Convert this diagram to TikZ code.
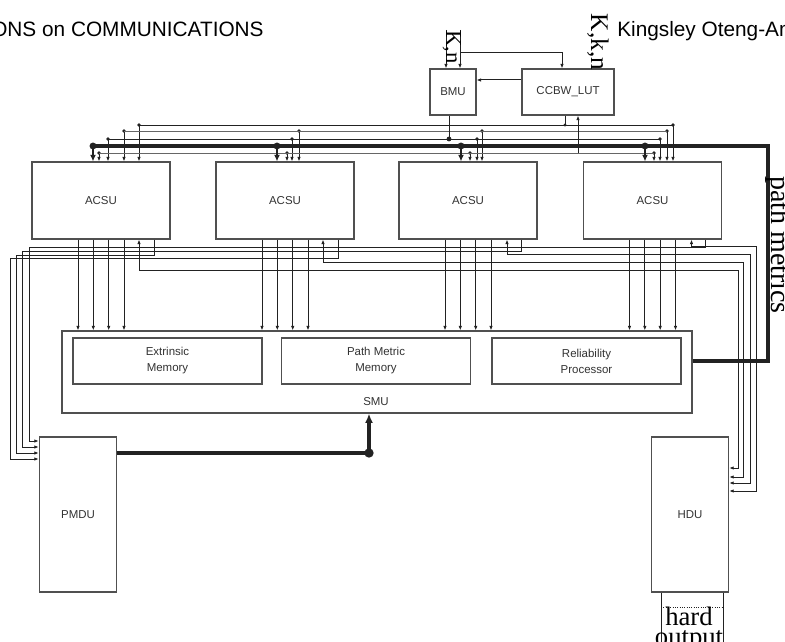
\documentclass[tikz,border=0pt]{standalone}
\usepackage{fontspec}
\setmainfont{Liberation Serif}
\setsansfont{Liberation Sans}
\usetikzlibrary{arrows.meta,positioning,calc}

\definecolor{wireblack}{HTML}{222222}
\definecolor{wiregray}{HTML}{666666}
\definecolor{framegray}{HTML}{505050}
\definecolor{labelgray}{HTML}{333333}

\begin{document}
\begin{tikzpicture}[
  x=0.75pt, y=-0.75pt,
  >={Latex[length=3.4pt,width=2.6pt]},
  unit/.style={draw=framegray, line width=0.8pt, fill=white, align=center,
    inner sep=0pt, text=labelgray, font=\fontsize{8.6}{12}\selectfont\sffamily},
  acsu/.style={unit, minimum width=103.5pt, minimum height=57.75pt},
  memory/.style={unit, minimum width=141.75pt, minimum height=34.5pt},
  tallunit/.style={unit, minimum width=58pt, minimum height=116.25pt},
  wire/.style={draw=wireblack, line width=0.75pt},
  graywire/.style={draw=wiregray, line width=0.75pt},
  arrow/.style={wire, ->},
  bus/.style={draw=wireblack, line width=2.3pt},
  busarrow/.style={draw=wireblack, line width=1.5pt, -{Latex[length=5pt,width=4.5pt]}},
  tapdot/.style={fill=wireblack},
  bigtext/.style={inner sep=0pt, font=\fontsize{#1}{#1}\selectfont\rmfamily}
]
\useasboundingbox (0,0) rectangle (785,642);

% page header
\node[anchor=base west, inner sep=0pt, font=\fontsize{15.6}{18}\selectfont\sffamily] (journal) at (-9,37) {ONS on COMMUNICATIONS};
\node[anchor=base west, inner sep=0pt, font=\fontsize{15.6}{18}\selectfont\sffamily] (author) at (617,37) {Kingsley Oteng-Am};

% branch metric part
\node[unit, minimum width=34.5pt, minimum height=34.5pt] (bmu) at (453,92) {BMU};
\node[unit, minimum width=69pt, minimum height=34.5pt] (lut) at (568,92) {CCBW\_LUT};

% ACSUs
\foreach \name/\cx in {acsuA/101, acsuB/285, acsuC/468, acsuD/652.5}
  \node[acsu] (\name) at (\cx,200.5) {ACSU};

% SMU
\node[unit, minimum width=472.5pt, minimum height=61.5pt] (smu) at (377,372) {};
\node[memory] (extmem) at (167.5,361) {Extrinsic\\Memory};
\node[memory] (pmmem) at (376,361) {Path Metric\\Memory};
\node[memory] (relproc) at (586.5,361) {Reliability\\Processor};
\node[inner sep=0pt, text=labelgray, font=\fontsize{8.6}{12}\selectfont\sffamily] (smulabel) at (376,402) {SMU};

% decision units
\node[tallunit] (pmdu) at (78,514.5) {PMDU};
\node[tallunit] (hdu) at (690,514.5) {HDU};

% inputs on top
\coordinate (inK) at (446,30);
\coordinate (inN) at (460,30);
\coordinate (inbranch) at (460,53);
\draw[arrow] (inK) -- (inK |- bmu.north);
\draw[arrow] (inN) -- (inN |- bmu.north);
\draw[arrow] (inbranch) -| ([xshift=-4.5pt]lut.north);
\draw[arrow] ([yshift=9pt]lut.west) -- ([yshift=9pt]bmu.east);
\node[bigtext=17, rotate=-90, anchor=base] (knlabel) at (446,47) {K,n};
\node[bigtext=19, rotate=-90, anchor=base] (kknlabel) at (591,42) {K,k,n};

% taps from the thin buses into the ACSU tops
\foreach \tp/\x/\y/\u in {
    t1a/139/125/acsuA, t1d/673/125/acsuD,
    t2a/124/131/acsuA, t2b/299/131/acsuB, t2c/482/131/acsuC, t2d/667/131/acsuD,
    t3a/108/139/acsuA, t3b/292/139/acsuB, t3c/477/139/acsuC, t3d/660/139/acsuD,
    t5a/99/153/acsuA,  t5b/287/153/acsuB, t5c/470/153/acsuC, t5d/654/153/acsuD} {
  \coordinate (\tp) at (\x,\y);
  \draw[arrow] (\tp) -- (\tp |- \u.north);
  \fill[tapdot] (\tp) circle (1.4pt);
}
\draw[wire] (t1a) -- (t1d);
\draw[graywire] (t2a) -- (t2d);
\draw[wire] (t3a) -- (t3d);
\draw[graywire] (t5a) -- (t5d);

% BMU and LUT on the buses
\coordinate (bmuout) at (449,139);
\coordinate (lutout) at (565,125);
\coordinate (lutin) at (578,153);
\draw[wire] (bmuout |- bmu.south) -- (bmuout);
\fill[tapdot] (bmuout) circle (1.8pt);
\draw[wire] (lutout |- lut.south) -- (lutout);
\fill[tapdot] (lutout) circle (1.2pt);
\draw[arrow] (lutin) -- (lutin |- lut.south);

% path metrics bus
\coordinate (pmturn) at (768,146);
\foreach \tp/\x/\u in {t4a/93/acsuA, t4b/277/acsuB, t4c/461/acsuC, t4d/645/acsuD} {
  \coordinate (\tp) at (\x,146);
  \draw[busarrow] (\tp) -- (\tp |- \u.north);
}
\draw[bus] (relproc.east -| smu.east) -| (pmturn) -- (t4a);
\foreach \tp in {t4a,t4b,t4c,t4d}
  \fill[tapdot] (\tp) circle (2.6pt);
\node[bigtext=21, rotate=-90, anchor=base] (pmlabel) at (771,245) {path metrics};

% ACSU outputs into the SMU
\foreach \u in {acsuA,acsuB,acsuC,acsuD}
  \foreach \dx in {-23,-7.7,7.7,23}
    \draw[arrow] (\u.south) ++(\dx,0) coordinate (smuin) -- (smuin |- smu.north);

% decisions to the PMDU
\coordinate (pl1) at (29,441);
\coordinate (pl2) at (22,447);
\coordinate (pl3) at (16,453);
\coordinate (pl4) at (10,459);
\draw[arrow] (acsuD.south) ++(53,0) coordinate (oD) -- (oD |- 0,247) -| (pl1) -- (pl1 -| pmdu.west);
\draw[arrow] (acsuC.south) ++(53,0) coordinate (oC) -- (oC |- 0,251) -| (pl2) -- (pl2 -| pmdu.west);
\draw[arrow] (acsuA.south) ++(53,0) coordinate (oA) -- (oA |- 0,255) -| (pl3) -- (pl3 -| pmdu.west);
\draw[arrow] (acsuB.south) ++(53,0) coordinate (oB) -- (oB |- 0,258) -| (pl4) -- (pl4 -| pmdu.west);

% links to the HDU
\coordinate (hr1) at (738,468);
\coordinate (hr2) at (743,477);
\coordinate (hr3) at (750,483);
\coordinate (hr4) at (756,491);
\draw[arrow, <->] (acsuA.south) ++(38,0) coordinate (iA) -- (iA |- 0,270) -| (hr1) -- (hr1 -| hdu.east);
\draw[arrow, <->] (acsuB.south) ++(38,0) coordinate (iB) -- (iB |- 0,262) -| (hr2) -- (hr2 -| hdu.east);
\draw[arrow, <->] (acsuC.south) ++(39,0) coordinate (iC) -- (iC |- 0,254) -| (hr3) -- (hr3 -| hdu.east);
\draw[arrow, <->] (acsuD.south) ++(39,0) coordinate (iD) -- (iD |- 0,246) -| (hr4) -- (hr4 -| hdu.east);

% PMDU back to the SMU
\coordinate (pmjoin) at (369,453);
\draw[bus] (pmjoin -| pmdu.east) -- (pmjoin);
\draw[draw=wireblack, line width=2.3pt, -{Latex[length=7pt,width=6pt]}] (pmjoin) -- (pmjoin |- smu.south);
\fill[tapdot] (pmjoin) circle (3.5pt);

% hard output
\coordinate (hardout) at (690,650);
\draw[wire] (hdu.south) ++(-29,0) coordinate (hoL) -- (hoL |- hardout);
\draw[wire] (hdu.south) ++(33,0) coordinate (hoR) -- (hoR |- hardout);
\draw[wire, densely dotted] (hoL |- 0,607) -- (hoR |- 0,607);
\node[inner sep=0pt, align=center, anchor=north, font=\fontsize{20}{15}\selectfont\rmfamily] (hardlabel) at (689,607) {hard\\output};
\end{tikzpicture}
\end{document}
